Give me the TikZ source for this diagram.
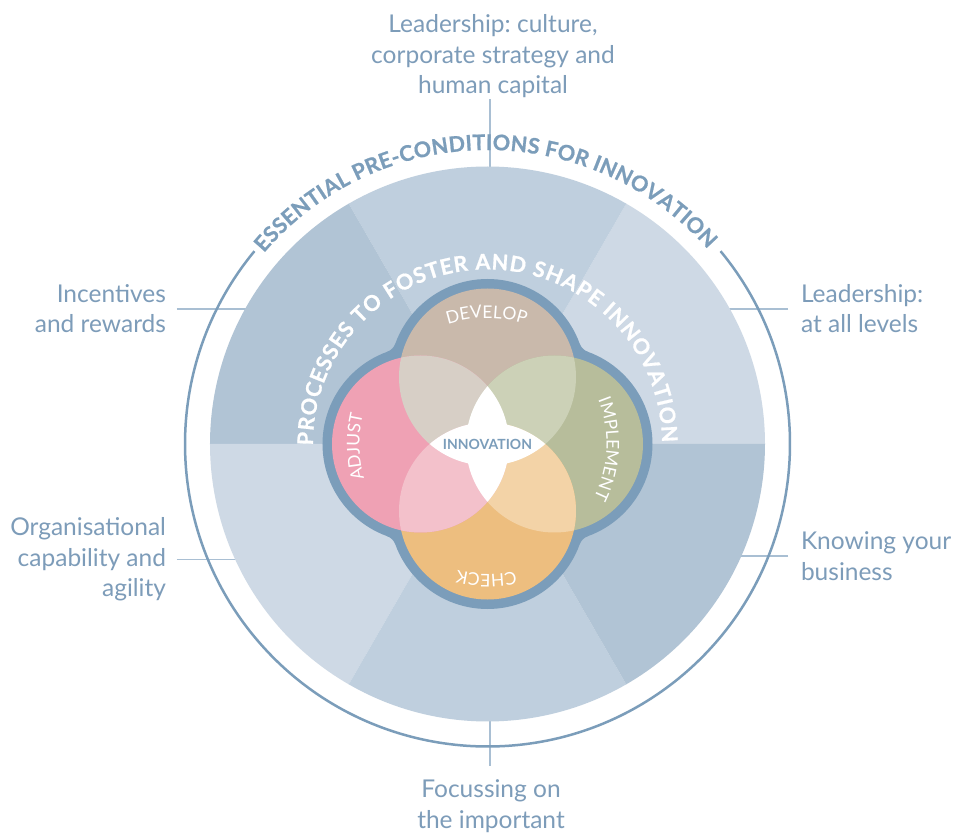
\documentclass[tikz,border=0pt]{standalone}
\usepackage{fontspec}
\setmainfont{Lato}
\frenchspacing
\usetikzlibrary{decorations.text}
\definecolor{ringblue}{HTML}{7B9DBA}
\definecolor{lblblue}{HTML}{7D9CB9}
\definecolor{connblue}{HTML}{A9BFD3}
\definecolor{secdark}{HTML}{B1C4D5}
\definecolor{secmid}{HTML}{BFCFDE}
\definecolor{seclight}{HTML}{CED9E5}
\definecolor{cDev}{HTML}{C9B9AB}
\definecolor{cImp}{HTML}{B7BD9B}
\definecolor{cChk}{HTML}{EDBE7F}
\definecolor{cAdj}{HTML}{EFA1B4}
\definecolor{cDA}{HTML}{D7CFC6}
\definecolor{cDI}{HTML}{CCD1B7}
\definecolor{cIC}{HTML}{F3D3A7}
\definecolor{cCA}{HTML}{F3C1CB}
\newcommand\hfont{\fontsize{21.5}{21.5}\selectfont\bfseries\addfontfeature{FakeBold=0.8}}
\newcommand\cfont{\fontsize{17.5}{17.5}\selectfont}
\begin{document}
\begin{tikzpicture}[x=1pt,y=1pt,
  lbl/.style={font=\fontsize{24.5}{30.5}\selectfont, text=lblblue, inner sep=0pt, outer sep=0pt},
  conn/.style={draw=connblue, line width=1.4pt},
  ring/.style={draw=ringblue, line width=2.5pt},
  curvetext/.style={decorate, decoration={text along path, text align={fit to path}, text color=#1}},
  curvemid/.style={decorate, decoration={text along path, text align=center, text color=#1}},
]
\fill[white] (-487.5,-393) rectangle (467.5,444);
\useasboundingbox (-487.5,-393) rectangle (467.5,444);

% ---- outer labels
\node[lbl, align=center, anchor=base] (lTop) at (5.5,350) {Leadership: culture,\\corporate strategy and\\human capital};
\node[lbl, align=right, anchor=base east] (lInc) at (-321.5,111) {Incentives\\and rewards};
\node[lbl, align=left, anchor=base west] (lLead) at (313.5,111) {Leadership:\\at all levels};
\node[lbl, align=right, anchor=base east] (lOrg) at (-321.5,-153) {Organisational\\capability and\\agility};
\node[lbl, align=left, anchor=base west] (lKnow) at (313.5,-136) {Knowing your\\business};
\node[lbl, align=center, anchor=base] (lFoc) at (3.5,-384) {Focussing on\\the important};

% ---- connector ends hidden under the disk
\coordinate (inTop) at (2.5,200);
\coordinate (inBot) at (2.5,-200);
\coordinate (inL) at (-200,0);
\coordinate (inR) at (200,0);
\coordinate (focTip) at ([yshift=14pt]lFoc.north);
\draw[conn] ([yshift=-1pt]lTop.south -| inTop) -- (inTop);
\draw[conn] (inBot) -- (inBot |- focTip);
\draw[conn] ([xshift=11pt]lInc.east) -- (lInc.east -| inL);
\draw[conn] ([xshift=11pt]lOrg.east) -- (lOrg.east -| inL);
\draw[conn] ([xshift=-13pt]lLead.west) -- (lLead.west -| inR);
\draw[conn] ([xshift=-13pt]lKnow.west) -- (lKnow.west -| inR);

% ---- outer ring with gap for the heading
\draw[ring] (39.6:302.5) arc[start angle=39.6, end angle=-219.6, radius=302.5];

% ---- six sectors
\fill[seclight] (0,0) -- (0:277.5) arc[start angle=0, end angle=60, radius=277.5] -- cycle;
\fill[secmid]   (0,0) -- (60:277.5) arc[start angle=60, end angle=120, radius=277.5] -- cycle;
\fill[secdark]  (0,0) -- (120:277.5) arc[start angle=120, end angle=180, radius=277.5] -- cycle;
\fill[seclight] (0,0) -- (180:277.5) arc[start angle=180, end angle=240, radius=277.5] -- cycle;
\fill[secmid]   (0,0) -- (240:277.5) arc[start angle=240, end angle=300, radius=277.5] -- cycle;
\fill[secdark]  (0,0) -- (300:277.5) arc[start angle=300, end angle=360, radius=277.5] -- cycle;

% ---- headings
\path[curvetext=ringblue, decoration={text={|\hfont|ESSENTIAL PRE-CONDITIONS FOR INNOVATION}}]
  (139.5:294) arc[start angle=139.5, end angle=41.5, radius=294];
\path[curvetext=white, decoration={text={|\hfont|PROCESSES TO FOSTER AND SHAPE INNOVATION}}]
  (180.5:174.5) arc[start angle=180.5, end angle=0.5, radius=174.5];

% ---- clover border
\foreach \a in {0,90,180,270}{
  \fill[ringblue] (\a:67) circle[radius=98];
  \begin{scope}[rotate=\a]
    \fill[ringblue] (92.10,100.48) arc[start angle=199.96, end angle=250.04, radius=14] -- (80,80) -- cycle;
  \end{scope}
}

% ---- four process circles
\fill[cDev] (0,67) circle[radius=88.5];
\fill[cImp] (67,0) circle[radius=88.5];
\fill[cChk] (0,-67) circle[radius=88.5];
\fill[cAdj] (-67,0) circle[radius=88.5];
\begin{scope}\clip (0,67) circle[radius=88.5]; \fill[cDA] (-67,0) circle[radius=88.5]; \end{scope}
\begin{scope}\clip (0,67) circle[radius=88.5]; \fill[cDI] (67,0) circle[radius=88.5]; \end{scope}
\begin{scope}\clip (0,-67) circle[radius=88.5]; \fill[cIC] (67,0) circle[radius=88.5]; \end{scope}
\begin{scope}\clip (0,-67) circle[radius=88.5]; \fill[cCA] (-67,0) circle[radius=88.5]; \end{scope}
% ---- centre: where three circles overlap
\begin{scope}\clip (0,67) circle[radius=88.5]; \clip (67,0) circle[radius=88.5]; \fill[white] (0,-67) circle[radius=88.5]; \end{scope}
\begin{scope}\clip (67,0) circle[radius=88.5]; \clip (0,-67) circle[radius=88.5]; \fill[white] (-67,0) circle[radius=88.5]; \end{scope}
\begin{scope}\clip (0,-67) circle[radius=88.5]; \clip (-67,0) circle[radius=88.5]; \fill[white] (0,67) circle[radius=88.5]; \end{scope}
\begin{scope}\clip (-67,0) circle[radius=88.5]; \clip (0,67) circle[radius=88.5]; \fill[white] (67,0) circle[radius=88.5]; \end{scope}

\node[font=\fontsize{14}{14}\selectfont\bfseries, text=ringblue, inner sep=0pt] (innov) at (0,0) {INNOVATION};

% ---- process labels
\path[curvemid=white, decoration={text={|\cfont|DEVELOP}}]
  (125.4:126) arc[start angle=125.4, end angle=55.4, radius=126];
\path[curvemid=white, decoration={text={|\cfont|IMPLEMENT}}]
  (37.5:119) arc[start angle=37.5, end angle=-42.5, radius=119];
\path[curvemid=white, decoration={text={|\cfont|CHECK}}]
  (-55.5:130) arc[start angle=-55.5, end angle=-125.5, radius=130];
\path[curvemid=white, decoration={text={|\cfont|ADJUST}}]
  (216.2:128) arc[start angle=216.2, end angle=146.2, radius=128];
\end{tikzpicture}
\end{document}
